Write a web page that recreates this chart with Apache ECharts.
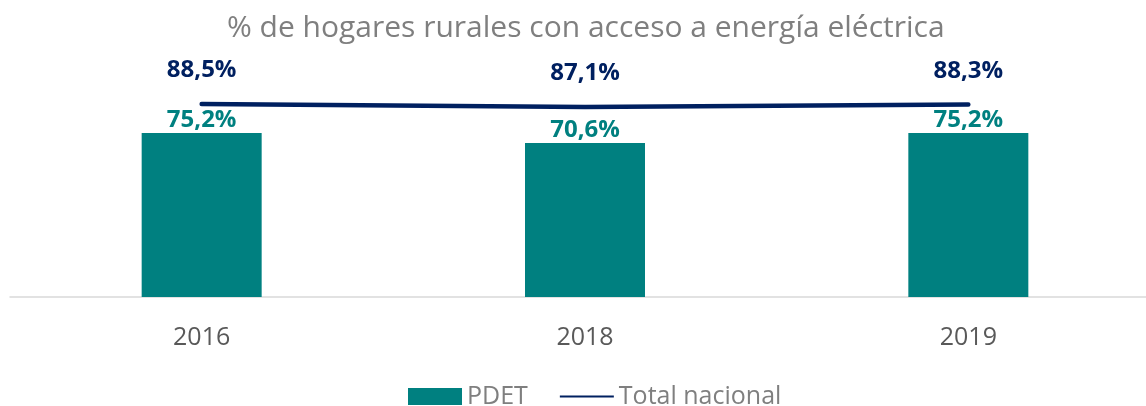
<!DOCTYPE html>
<html lang="es">
<head>
    <meta charset="UTF-8">
    <title>hogares-rurales</title>
    <script src="https://cdn.jsdelivr.net/npm/echarts@6/dist/echarts.min.js"></script>
</head>
<body style="margin:0">
<div id="main" style="width: 1146px;height:406px;"></div>
<script>
    // datos
    var years = ["2016", "2018", "2019"];
    var pdet = [75.2, 70.6, 75.2];
    var totalNacional = [88.5, 87.1, 88.3];

    function pct(p) {
        return p.value.toFixed(1).replace('.', ',') + '%';
    }

    var chart = echarts.init(document.getElementById("main"));
    var option = {
        backgroundColor: '#fff',
        animation: false,
        title: {
            text: '% de hogares rurales con acceso a energía eléctrica',
            left: 222,
            top: 8,
            textStyle: {
                color: '#7f7f7f',
                fontSize: 30,
                fontWeight: 'normal',
                fontFamily: 'Open Sans'
            }
        },
        legend: {
            top: 379,
            left: 403,
            itemGap: 32,
            itemWidth: 54,
            itemHeight: 17,
            lineStyle: {width: 5, cap: 'round'},
            textStyle: {
                color: '#7f7f7f',
                fontSize: 25,
                fontFamily: 'Open Sans'
            },
            data: [
                {name: 'PDET', icon: 'rect'},
                {
                    name: 'Total nacional',
                    icon: 'path://M0,0 L100,0 L100,4 L0,4 Z',
                    itemStyle: {color: '#002060'}
                }
            ]
        },
        grid: {
            left: 10,
            right: -14,
            top: 79,
            height: 218,
            outerBoundsMode: 'none'
        },
        xAxis: {
            type: 'category',
            data: years,
            axisTick: {show: false},
            axisLine: {lineStyle: {color: '#d9d9d9', width: 1.5}},
            axisLabel: {
                color: '#595959',
                fontSize: 25,
                fontFamily: 'Open Sans',
                margin: 28
            }
        },
        yAxis: {
            type: 'value',
            min: 0,
            max: 100,
            show: false
        },
        series: [
            {
                name: 'PDET',
                type: 'bar',
                barWidth: 120,
                itemStyle: {color: '#008080'},
                label: {
                    show: true,
                    position: 'top',
                    distance: 1,
                    formatter: pct,
                    color: '#008080',
                    fontSize: 24,
                    fontWeight: 'bold',
                    fontFamily: 'Open Sans'
                },
                data: pdet
            },
            {
                name: 'Total nacional',
                type: 'line',
                symbol: 'circle',
                symbolSize: 1,
                showSymbol: true,
                z: 5,
                lineStyle: {color: '#002060', width: 4.5, cap: 'round'},
                itemStyle: {color: '#002060'},
                label: {
                    show: true,
                    position: 'top',
                    distance: 21,
                    formatter: pct,
                    color: '#002060',
                    fontSize: 24,
                    fontWeight: 'bold',
                    fontFamily: 'Open Sans'
                },
                data: totalNacional
            }
        ]
    };
    chart.setOption(option);
</script>
</body>
</html>
